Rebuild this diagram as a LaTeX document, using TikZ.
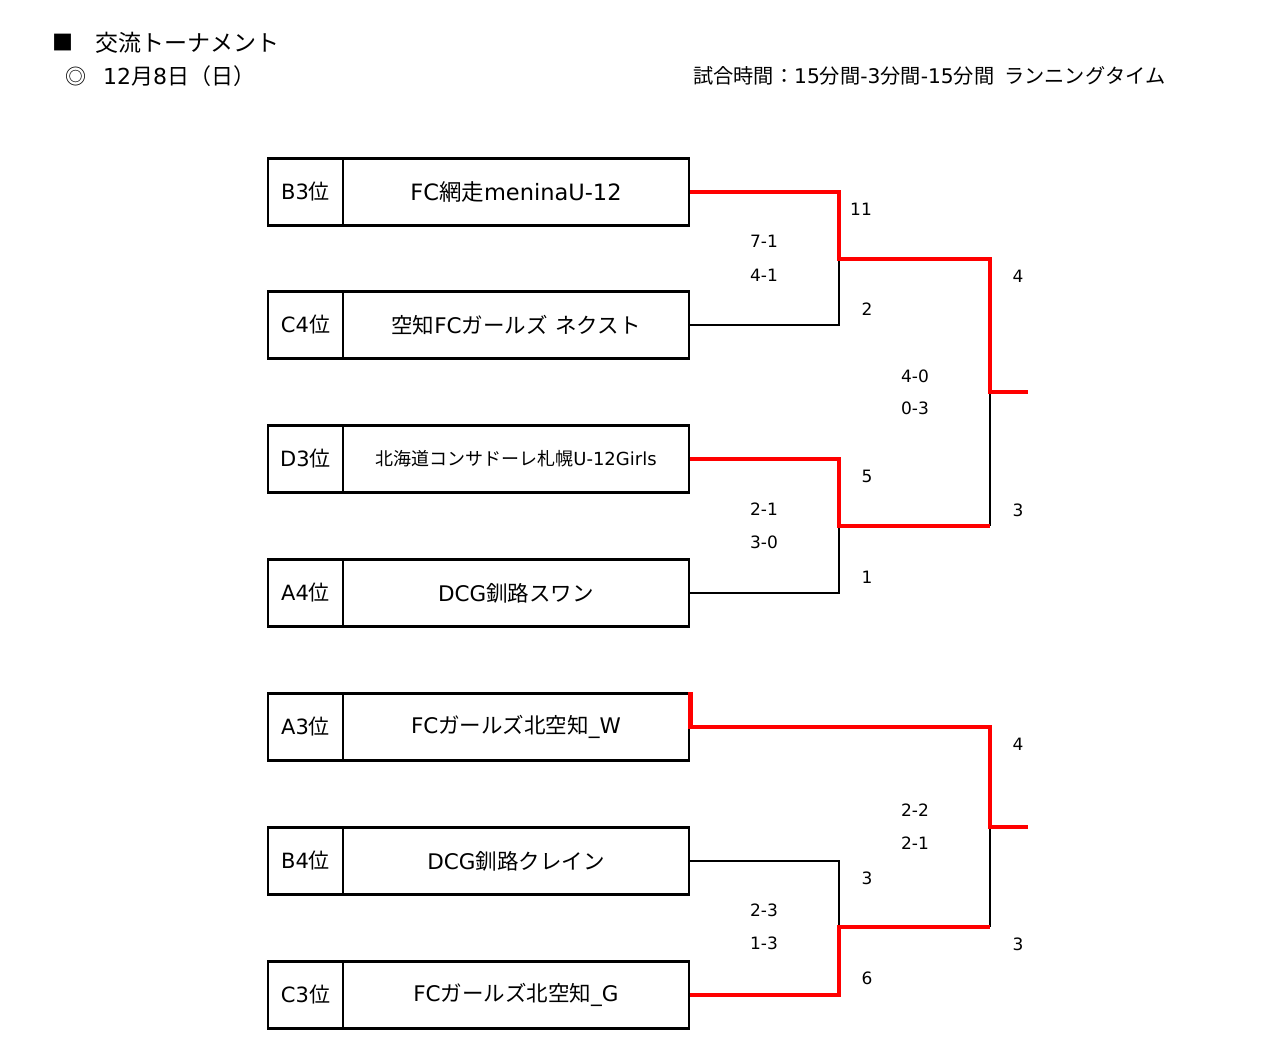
\documentclass[tikz,border=0pt]{standalone}
\usepackage{fontspec}
\setmainfont{DejaVu Sans}
\newfontfamily\jp{Noto Sans CJK JP}
\begin{document}
\begin{tikzpicture}[x=1pt,y=-1pt,
  rankbox/.style={draw,line width=2.4pt,minimum width=75pt,minimum height=67pt,inner sep=0pt,font=\fontsize{21}{23}\selectfont,anchor=center},
  teambox/.style={draw,line width=2.4pt,minimum width=346pt,minimum height=67pt,inner sep=0pt,font=\fontsize{21.5}{23}\selectfont,anchor=center},
  lose/.style={line width=2pt,black},
  win/.style={line width=4.6pt,red},
  score/.style={font=\fontsize{17}{19}\selectfont,inner sep=0pt,anchor=center},
  head/.style={inner sep=0pt,anchor=west}]
\useasboundingbox (0,0) rectangle (1280,1064);
% header
\node[head,font=\fontsize{21}{24}\jp] (sq) at (52,43) {■};
\node[head,font=\fontsize{23}{24}\jp] (title) at (95,43) {交流トーナメント};
\node[head,font=\fontsize{21}{22}\jp] (circ) at (65,77) {◎};
\node[head,font=\fontsize{22}{24}\selectfont] (date) at (103,76) {12{\jp 月}8{\jp 日（日）}};
\node[head,font=\fontsize{20.2}{22}\selectfont] (rule) at (693,76) {{\jp 試合時間：}15{\jp 分間}-3{\jp 分間}-15{\jp 分間}\hspace{0.5em}{\jp ランニングタイム}};
% boxes
\foreach \i/\y/\r/\t in {1/192/B3/{{\fontsize{22.5}{24}\selectfont FC{\jp 網走}meninaU-12}},
                         2/325/C4/{{\jp 空知}FC{\jp ガールズ}\hspace{0.35em}{\jp ネクスト}},
                         3/459/D3/{{\fontsize{18}{20}\selectfont{\jp 北海道コンサドーレ札幌}U-12Girls}},
                         4/593/A4/{DCG{\jp 釧路スワン}},
                         5/727/A3/{FC{\jp ガールズ北空知}\_W},
                         6/861/B4/{DCG{\jp 釧路クレイン}},
                         7/995/C3/{FC{\jp ガールズ北空知}\_G}}{
  \node[rankbox] (r\i) at (305.5,\y) {\r{\jp 位}};
  \node[teambox] (t\i) at (516,\y) {\t};
}
% junction coordinates
\coordinate (j1) at (839,259);
\coordinate (j2) at (839,526);
\coordinate (f1) at (990,392);
\coordinate (fe1) at (1028,392);
\coordinate (j3) at (839,927);
\coordinate (f2) at (990,827);
\coordinate (fe2) at (1028,827);
% losing lines
\draw[lose] (t2.east) -| (j1);
\draw[lose] (t4.east) -| (j2);
\draw[lose] (f1 |- j2) -- (f1);
\draw[lose] (t6.east) -| (j3);
\draw[lose] (f2) -- (f2 |- j3);
% winning lines
\draw[win] (t1.east) -| (j1) -- (f1 |- j1) -- (f1) -- (fe1);
\draw[win] (t3.east) -| (j2) -- (f1 |- j2);
\draw[win] (t5.north east) -- (t5.east) -- (f2 |- t5.east) -- (f2) -- (fe2);
\draw[win] (t7.east) -| (j3) -- (f2 |- j3);
% scores
\node[score] (s1) at (861,209) {11};
\node[score] (s2) at (764,241) {7-1};
\node[score] (s3) at (764,275) {4-1};
\node[score] (s4) at (867,309) {2};
\node[score] (s5) at (1018,276) {4};
\node[score] (s6) at (915,376) {4-0};
\node[score] (s7) at (915,408) {0-3};
\node[score] (s8) at (867,476) {5};
\node[score] (s9) at (764,509) {2-1};
\node[score] (s10) at (764,542) {3-0};
\node[score] (s11) at (867,577) {1};
\node[score] (s12) at (1018,510) {3};
\node[score] (s13) at (1018,744) {4};
\node[score] (s14) at (915,810) {2-2};
\node[score] (s15) at (915,843) {2-1};
\node[score] (s16) at (867,878) {3};
\node[score] (s17) at (764,910) {2-3};
\node[score] (s18) at (764,943) {1-3};
\node[score] (s19) at (867,978) {6};
\node[score] (s20) at (1018,944) {3};
\end{tikzpicture}
\end{document}
